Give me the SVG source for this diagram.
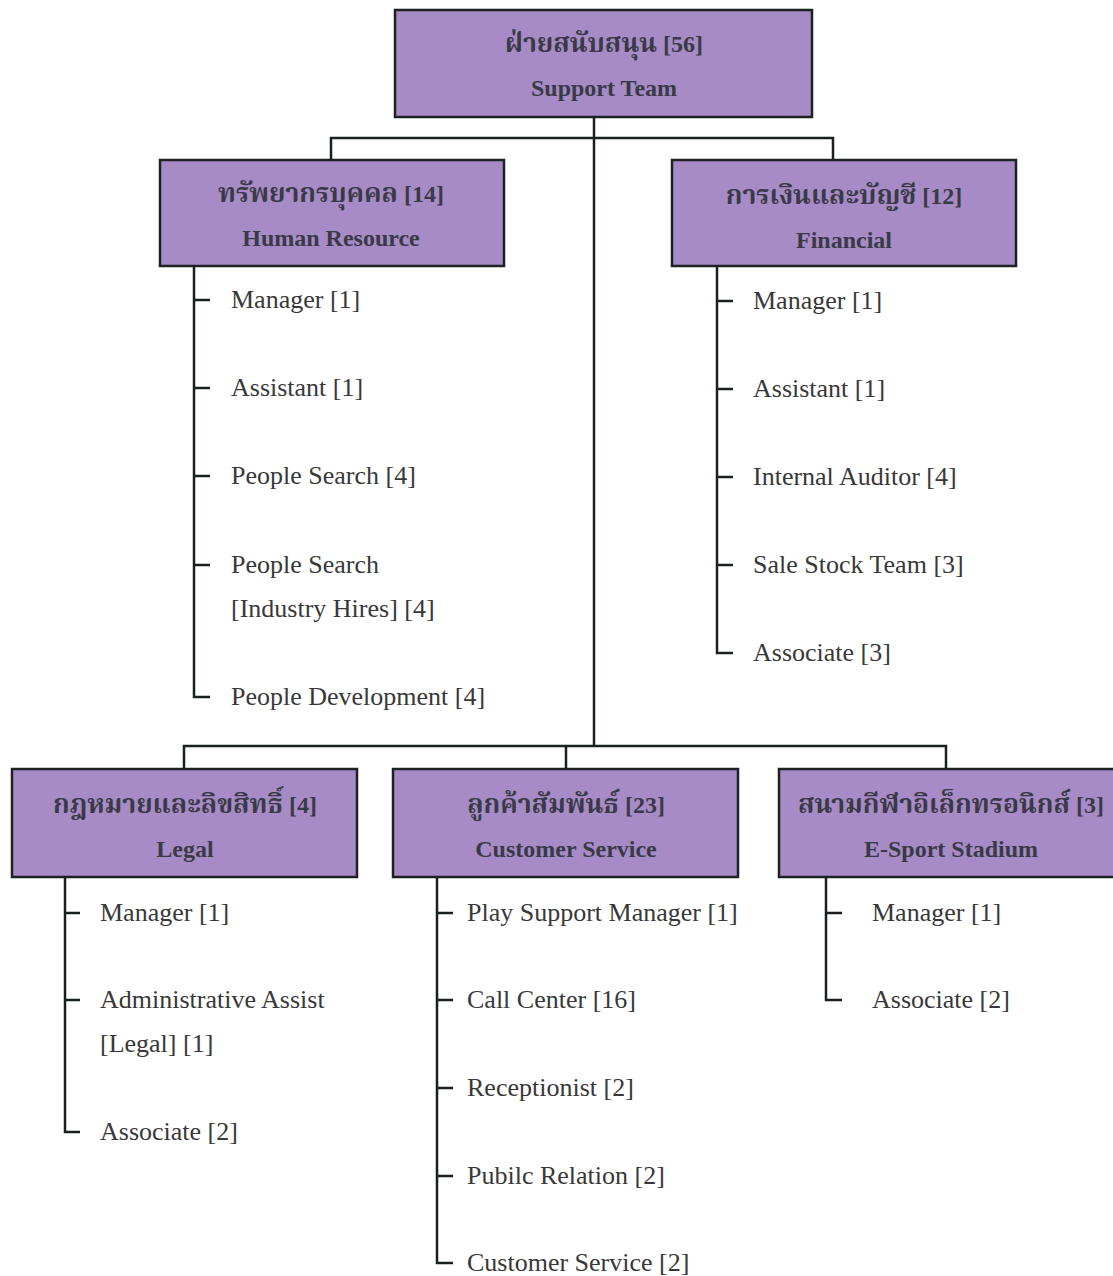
<svg xmlns="http://www.w3.org/2000/svg" width="1113" height="1276" viewBox="0 0 1113 1276">
<style>
.box{fill:#A68BC7;stroke:#1e2222;stroke-width:2.5}
.hd{font-family:"Liberation Serif","Noto Serif Thai","Noto Sans Thai","Norasi","Garuda","Loma",serif;font-weight:bold;font-size:24px;fill:#3a3a46;text-anchor:middle}
.th{font-size:26.5px}
.it{font-family:"Liberation Serif","Noto Serif Thai",serif;font-size:26px;fill:#383838}
.ln{fill:none;stroke:#1a1f1f;stroke-width:2.5}
</style>
<rect width="1113" height="1276" fill="#ffffff"/>
<g id="connectors" class="ln">
<path d="M594 117V746M331 160V138H833V160M184 769V746H946V769M566 746V769"/>
<path d="M194 266V697H210M194 300H210M194 388H210M194 476H210M194 565H210"/>
<path d="M717 266V653H733M717 301H733M717 389H733M717 477H733M717 565H733"/>
<path d="M65 877V1132H80M65 913H80M65 1000H80"/>
<path d="M437 877V1263H453M437 913H453M437 1000H453M437 1088H453M437 1176H453"/>
<path d="M826 877V1000H842M826 913H842"/>
</g>
<g id="support">
<rect class="box" x="395" y="10" width="417" height="107"/>
<text class="hd" x="604" y="52"><tspan class="th">ฝ่ายสนับสนุน</tspan> [56]</text>
<text class="hd" x="604" y="96">Support Team</text>
</g>
<g id="hr">
<rect class="box" x="160" y="160" width="344" height="106"/>
<text class="hd" x="331" y="202"><tspan class="th">ทรัพยากรบุคคล</tspan> [14]</text>
<text class="hd" x="331" y="246">Human Resource</text>
</g>
<g id="financial">
<rect class="box" x="672" y="160" width="344" height="106"/>
<text class="hd" x="844" y="204"><tspan class="th">การเงินและบัญชี</tspan> [12]</text>
<text class="hd" x="844" y="248">Financial</text>
</g>
<g id="legal">
<rect class="box" x="12" y="769" width="345" height="108"/>
<text class="hd" x="185" y="813"><tspan class="th">กฎหมายและลิขสิทธิ์</tspan> [4]</text>
<text class="hd" x="185" y="857">Legal</text>
</g>
<g id="customer">
<rect class="box" x="393" y="769" width="345" height="108"/>
<text class="hd" x="566" y="813"><tspan class="th">ลูกค้าสัมพันธ์</tspan> [23]</text>
<text class="hd" x="566" y="857">Customer Service</text>
</g>
<g id="esport">
<rect class="box" x="779" y="769" width="345" height="108"/>
<text class="hd" x="951" y="813"><tspan class="th">สนามกีฬาอิเล็กทรอนิกส์</tspan> [3]</text>
<text class="hd" x="951" y="857">E-Sport Stadium</text>
</g>
<g id="hr-items" class="it">
<text x="231" y="308">Manager [1]</text>
<text x="231" y="396">Assistant [1]</text>
<text x="231" y="484">People Search [4]</text>
<text x="231" y="573">People Search</text>
<text x="231" y="617">[Industry Hires] [4]</text>
<text x="231" y="705">People Development [4]</text>
</g>
<g id="fin-items" class="it">
<text x="753" y="309">Manager [1]</text>
<text x="753" y="397">Assistant [1]</text>
<text x="753" y="485">Internal Auditor [4]</text>
<text x="753" y="573">Sale Stock Team [3]</text>
<text x="753" y="661">Associate [3]</text>
</g>
<g id="legal-items" class="it">
<text x="100" y="921">Manager [1]</text>
<text x="100" y="1008">Administrative Assist</text>
<text x="100" y="1052">[Legal] [1]</text>
<text x="100" y="1140">Associate [2]</text>
</g>
<g id="cs-items" class="it">
<text x="467" y="921">Play Support Manager [1]</text>
<text x="467" y="1008">Call Center [16]</text>
<text x="467" y="1096">Receptionist [2]</text>
<text x="467" y="1184">Pubilc Relation [2]</text>
<text x="467" y="1271">Customer Service [2]</text>
</g>
<g id="esport-items" class="it">
<text x="872" y="921">Manager [1]</text>
<text x="872" y="1008">Associate [2]</text>
</g>
</svg>
